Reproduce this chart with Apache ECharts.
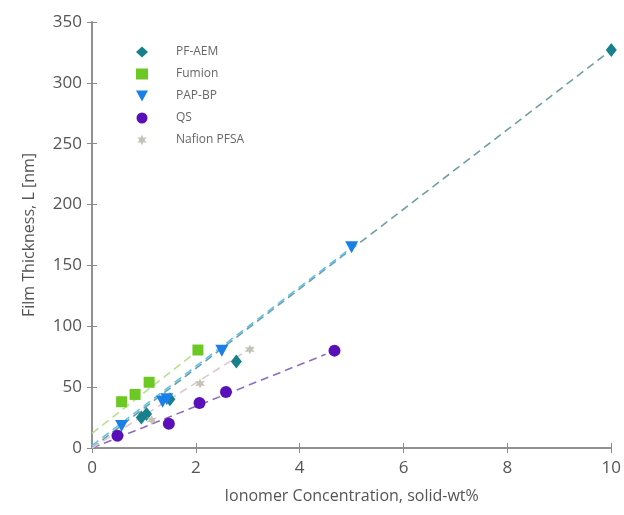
<!DOCTYPE html>
<html><head><meta charset="utf-8">
<script src="https://cdn.jsdelivr.net/npm/echarts@6/dist/echarts.min.js"></script>
<style>html,body{margin:0;padding:0;background:#fff}#c{width:624px;height:515px}</style>
</head><body><div id="c"></div>
<script>
const seriesNames = ['PF-AEM','Fumion','PAP-BP','QS','Nafion PFSA'];
const pfAem = [[0.95,25],[1.05,28],[1.5,40],[2.78,71],[10,327]];
const fumion = [[0.57,38],[0.83,44],[1.1,54],[2.04,80.5]];
const papBp = [[0.57,18],[1.36,38],[1.44,40],[2.5,80],[5.0,165]];
const qs = [[0.49,10],[1.48,20],[2.07,37],[2.58,46],[4.67,80]];
const nafion = [[1.15,23],[2.08,53],[3.04,81]];
const fitPfAem = [[0,0],[10,327]];
const fitFumion = [[0,12],[2.1,82]];
const fitPapBp = [[0,2],[5.1,168]];
const fitQs = [[0,0],[4.5,77]];
const fitNafion = [[0,0],[3.1,83]];
const xTicks = [0,2,4,6,8,10];
const yTicks = [0,50,100,150,200,250,300,350];

const colors = ['#17808a','#6cc923','#1a7fe8','#5a10b8','#c2c2b6'];
const lineColors = ['#6f9ea4','#b8e08c','#63c3ea','#8d6cc2','#dcc6d2'];
const downTri = 'path://M0,0 L10,0 L5,9 Z';
const star = 'path://M5,0 L6.2,3 L9.3,2.5 L7.3,5 L9.3,7.5 L6.2,7 L5,10 L3.8,7 L0.7,7.5 L2.7,5 L0.7,2.5 L3.8,3 Z';
const symbols = ['diamond','rect',downTri,'circle',star];
const sizes = [[11,14],11,[13,12],12,10];
const datasets = [pfAem,fumion,papBp,qs,nafion];
const fits = [fitPfAem,fitFumion,fitPapBp,fitQs,fitNafion];

const font = 'Open Sans, Noto Sans, sans-serif';
const axisColor = '#8a8a8a';
const textColor = '#555';

const series = [];
fits.forEach((f,i)=>{
  series.push({type:'line', data:f, showSymbol:false, silent:true, z:1,
    lineStyle:{color:lineColors[i], width:1.6, type:[8,5]}});
});
datasets.forEach((d,i)=>{
  series.push({name:seriesNames[i], type:'scatter', data:d, symbol:symbols[i], symbolSize:sizes[i], z:3,
    itemStyle:{color:colors[i], opacity:1}});
});

const chart = echarts.init(document.getElementById('c'), null, {renderer:'canvas'});
const baseAxis = {
  axisLine:{show:true, lineStyle:{color:axisColor, width:1.5}},
  axisTick:{show:true, inside:true, length:5, lineStyle:{color:axisColor}},
  splitLine:{show:false}
};
chart.setOption({
  animation:false,
  backgroundColor:'#fff',
  grid:{left:92, right:12, top:22, bottom:67, show:false},
  legend:{
    data:seriesNames, orient:'vertical', left:131, top:40, itemGap:8,
    itemWidth:12, itemHeight:11,
    textStyle:{fontFamily:font, fontSize:12, color:'#666', padding:[0,0,0,23], lineHeight:14}
  },
  xAxis:[
    Object.assign({}, baseAxis, {type:'value', min:0, max:10, interval:2, position:'bottom',
      name:'Ionomer Concentration, solid-wt%', nameLocation:'middle', nameGap:40,
      nameTextStyle:{fontFamily:font, fontSize:16, color:textColor},
      axisLabel:{fontFamily:font, fontSize:17, color:textColor, margin:12, formatter:v=>xTicks.includes(v)?String(v):''}}),
    Object.assign({}, baseAxis, {type:'value', min:0, max:10, interval:2, position:'top', axisLabel:{show:false}})
  ],
  yAxis:[
    Object.assign({}, baseAxis, {type:'value', min:0, max:350, interval:50, position:'left',
      name:'Film Thickness, L [nm]', nameLocation:'middle', nameGap:55,
      nameTextStyle:{fontFamily:font, fontSize:16, color:textColor},
      axisLabel:{fontFamily:font, fontSize:17, color:textColor, margin:10, formatter:v=>yTicks.includes(v)?String(v):''}}),
    Object.assign({}, baseAxis, {type:'value', min:0, max:350, interval:50, position:'right', axisLabel:{show:false}})
  ],
  series: series
});
</script></body></html>
